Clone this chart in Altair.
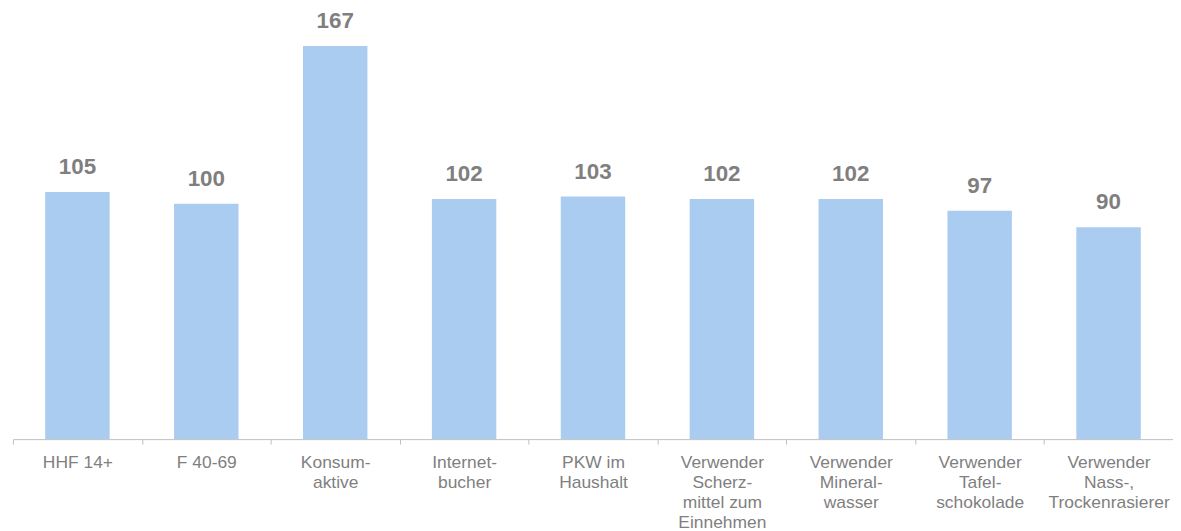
import altair as alt
import pandas as pd

categories = [
    "HHF 14+",
    "F 40-69",
    "Konsum-|aktive",
    "Internet-|bucher",
    "PKW im|Haushalt",
    "Verwender|Scherz-|mittel zum|Einnehmen",
    "Verwender|Mineral-|wasser",
    "Verwender|Tafel-|schokolade",
    "Verwender|Nass-,|Trockenrasierer",
]
values = [105, 100, 167, 102, 103, 102, 102, 97, 90]

df = pd.DataFrame({"cat": categories, "value": values})

x = alt.X(
    "cat:N",
    sort=categories,
    title=None,
    scale=alt.Scale(paddingInner=0, paddingOuter=0),
    axis=alt.Axis(
        labelAngle=0,
        labelExpr="split(datum.label, '|')",
        labelFont="Liberation Sans",
        labelFontSize=17.5,
        labelColor="#7f7f7f",
        labelLineHeight=20,
        labelPadding=10,
        labelLimit=200,
        domainColor="#c0c0c0",
        tickColor="#c0c0c0",
        tickSize=5,
        tickBand="extent",
        labelBaseline="top",
    ),
)
y = alt.Y(
    "value:Q",
    scale=alt.Scale(domain=[0, 180], nice=False),
    axis=None,
)

bars = alt.Chart(df).mark_bar(color="#AACCF0", width=alt.RelativeBandSize(0.5)).encode(x=x, y=y)
labels = alt.Chart(df).mark_text(
    dy=-13,
    baseline="bottom",
    font="Liberation Sans",
    fontSize=22.5,
    fontWeight="bold",
    color="#7f7f7f",
).encode(x=x, y=y, text="value:Q")

chart = (
    (bars + labels)
    .properties(
        width=1166,
        height=426,
        autosize=alt.AutoSizeParams(type="none"),
        padding={"left": 5, "top": 6, "right": 0, "bottom": 90},
    )
    .configure_view(stroke=None)
)

chart.save("out.html", embed_options={"renderer": "svg", "actions": False})
